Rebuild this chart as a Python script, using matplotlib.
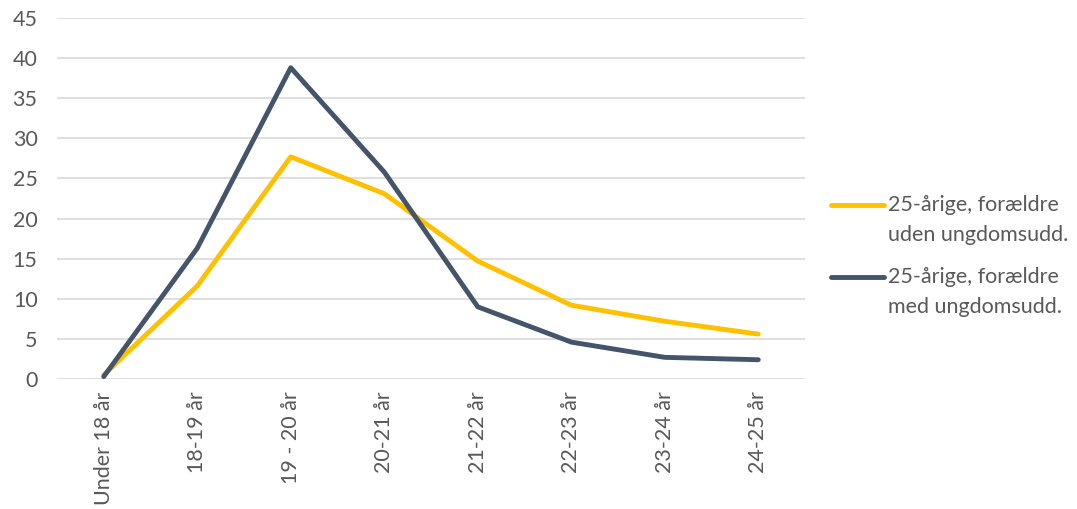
import matplotlib
matplotlib.use("Agg")
import matplotlib.pyplot as plt
from matplotlib.lines import Line2D

categories = ["Under 18 år", "18-19 år", "19 - 20 år", "20-21 år", "21-22 år", "22-23 år", "23-24 år", "24-25 år"]
uden = [0.5, 11.6, 27.7, 23.1, 14.7, 9.2, 7.2, 5.6]
med = [0.3, 16.3, 38.8, 25.8, 9.0, 4.6, 2.7, 2.4]
labels = [["25-årige, forældre", "uden ungdomsudd."], ["25-årige, forældre", "med ungdomsudd."]]
yticks = [0, 5, 10, 15, 20, 25, 30, 35, 40, 45]

c_yellow = "#FFC000"
c_dark = "#44546A"
c_text = "#595959"

plt.rcParams['font.family'] = ['Lato', 'DejaVu Sans']
FS = 15.5

W, H = 1077, 509
fig = plt.figure(figsize=(W/100, H/100), dpi=100)
ax = fig.add_axes([57/W, (H-379)/H, (805-57)/W, (379-18)/H])

x = list(range(len(categories)))
ax.plot(x, uden, color=c_yellow, lw=3.5, solid_capstyle='round', solid_joinstyle='round', zorder=3)
ax.plot(x, med, color=c_dark, lw=3.5, solid_capstyle='round', solid_joinstyle='round', zorder=4)

ax.set_xlim(-0.5, len(categories) - 0.5)
ax.set_ylim(0, 45)
ax.set_yticks(yticks)
ax.yaxis.grid(True, color="#D9D9D9", lw=1.2)
ax.set_axisbelow(True)
for s in ax.spines.values():
    s.set_visible(False)
ax.set_xticks(x)
ax.set_xticklabels(categories, rotation=90, fontsize=FS, color=c_text)
ax.tick_params(axis='y', labelsize=FS, colors=c_text, length=0, pad=14)
ax.tick_params(axis='x', length=0, pad=9)

# manual legend
for (ly, col, lab) in [(205, c_yellow, labels[0]), (277, c_dark, labels[1])]:
    fig.add_artist(Line2D([831/W, 884/W], [(H-ly)/H, (H-ly)/H], color=col, lw=3.5,
                          solid_capstyle='round', transform=fig.transFigure))
    fig.text(888/W, (H-ly)/H, lab[0], fontsize=FS, color=c_text, va='center',
             transform=fig.transFigure)
    fig.text(888/W, (H-ly-30)/H, lab[1], fontsize=FS, color=c_text, va='center',
             transform=fig.transFigure)

fig.savefig("out.png", dpi=100)
